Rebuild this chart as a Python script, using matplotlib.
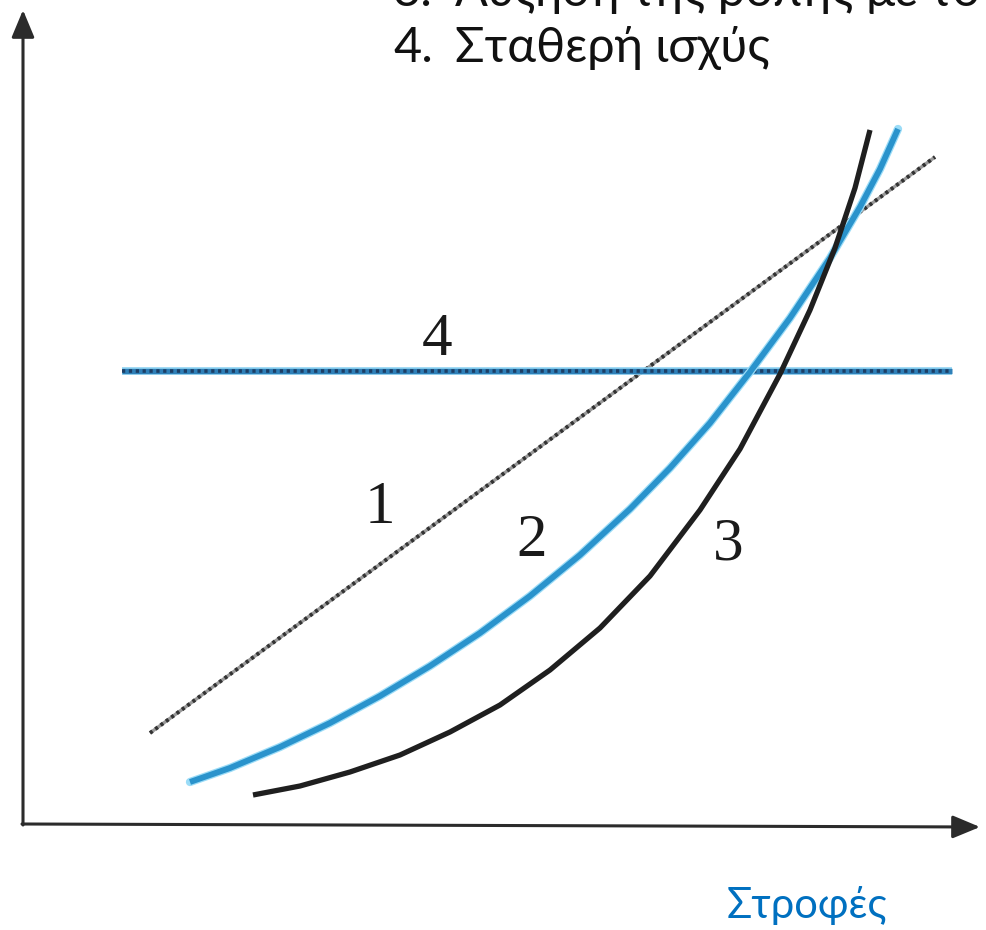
import matplotlib
matplotlib.use("Agg")
import matplotlib.pyplot as plt

# speed (x) and torque (y), measured from the origin of the axes
line1_x = [127, 912]
line1_y = [91, 667]

curve2_x = [167, 207, 257, 307, 357, 407, 457, 507, 557, 607, 647, 687, 727, 767, 807, 837, 857, 875]
curve2_y = [42, 56, 77, 101, 128, 158, 191, 228, 269, 315, 356, 401, 452, 506, 566, 617, 655, 695]

curve3_x = [230, 277, 327, 377, 427, 477, 527, 577, 627, 677, 717, 757, 787, 812, 832, 847]
curve3_y = [29, 38, 52, 69, 92, 119, 154, 196, 248, 314, 375, 450, 514, 576, 636, 694]

line4_x = [99, 929]
line4_y = [453, 453]

curve_labels = ["1", "2", "3", "4"]
label_x = [357, 509, 705, 414]
label_y = [316, 283, 279, 484]

legend_nums = ["3.", "4."]
legend_text = ["Αύξηση της ροπής με το τετράγωνο των στροφών", "Σταθερή ισχύς"]
xlabel = "Στροφές"

fig = plt.figure(figsize=(9.86, 9.30), dpi=100)
ax = fig.add_axes([0, 0, 1, 1])
ax.set_xlim(-23, 963)
ax.set_ylim(-106, 824)
ax.axis("off")

# axes with arrow heads
arrow = dict(arrowstyle="-|>,head_length=0.6,head_width=0.25", color="#2b2b2b", lw=2.2,
             mutation_scale=28, shrinkA=0, shrinkB=0)
ax.annotate("", xy=(0, 814), xytext=(0, -1), arrowprops=arrow)
ax.annotate("", xy=(957, -3), xytext=(-1, 0), arrowprops=arrow)

# 1: grainy straight line
ax.plot(line1_x, line1_y, color="#9a9a9a", lw=2.4, solid_capstyle="butt")
ax.plot(line1_x, line1_y, color="#333333", lw=2.8, linestyle=(0, (0.8, 0.9)))

# 4: constant power, blue with dark dots
ax.plot(line4_x, line4_y, color="#8fd3f2", lw=5.5, solid_capstyle="butt")
ax.plot(line4_x, line4_y, color="#2f80b8", lw=3.8, solid_capstyle="butt")
ax.plot(line4_x, line4_y, color="#1d3f66", lw=2.6, linestyle=(0, (0.9, 1.0)))

# 2: blue curve
ax.plot(curve2_x, curve2_y, color="#9bdcf7", lw=6.0, solid_capstyle="round", solid_joinstyle="round")
ax.plot(curve2_x, curve2_y, color="#2a93cc", lw=4.2, solid_capstyle="butt", solid_joinstyle="round")

# 3: black curve
ax.plot(curve3_x, curve3_y, color="#1f1f1f", lw=3.8, solid_capstyle="butt", solid_joinstyle="round")

for t, x, y in zip(curve_labels, label_x, label_y):
    ax.text(x, y, t, ha="center", va="center", fontsize=44,
            family=["Liberation Serif", "DejaVu Serif"], color="#1a1a1a")

# list text above the plot
sans = ["Lato", "Open Sans", "DejaVu Sans"]
ax.text(370, 818, legend_nums[0], fontsize=35, family=sans, va="baseline", color="#111111")
ax.text(432, 818, legend_text[0], fontsize=35, family=sans, va="baseline", color="#111111")
ax.text(370, 762, legend_nums[1], fontsize=35, family=sans, va="baseline", color="#111111")
ax.text(432, 762, legend_text[1], fontsize=35, family=sans, va="baseline", color="#111111")

ax.text(704, -94, xlabel, fontsize=30, family=sans, va="baseline", color="#0070c0")

fig.savefig("out.png", dpi=100, facecolor="white")
